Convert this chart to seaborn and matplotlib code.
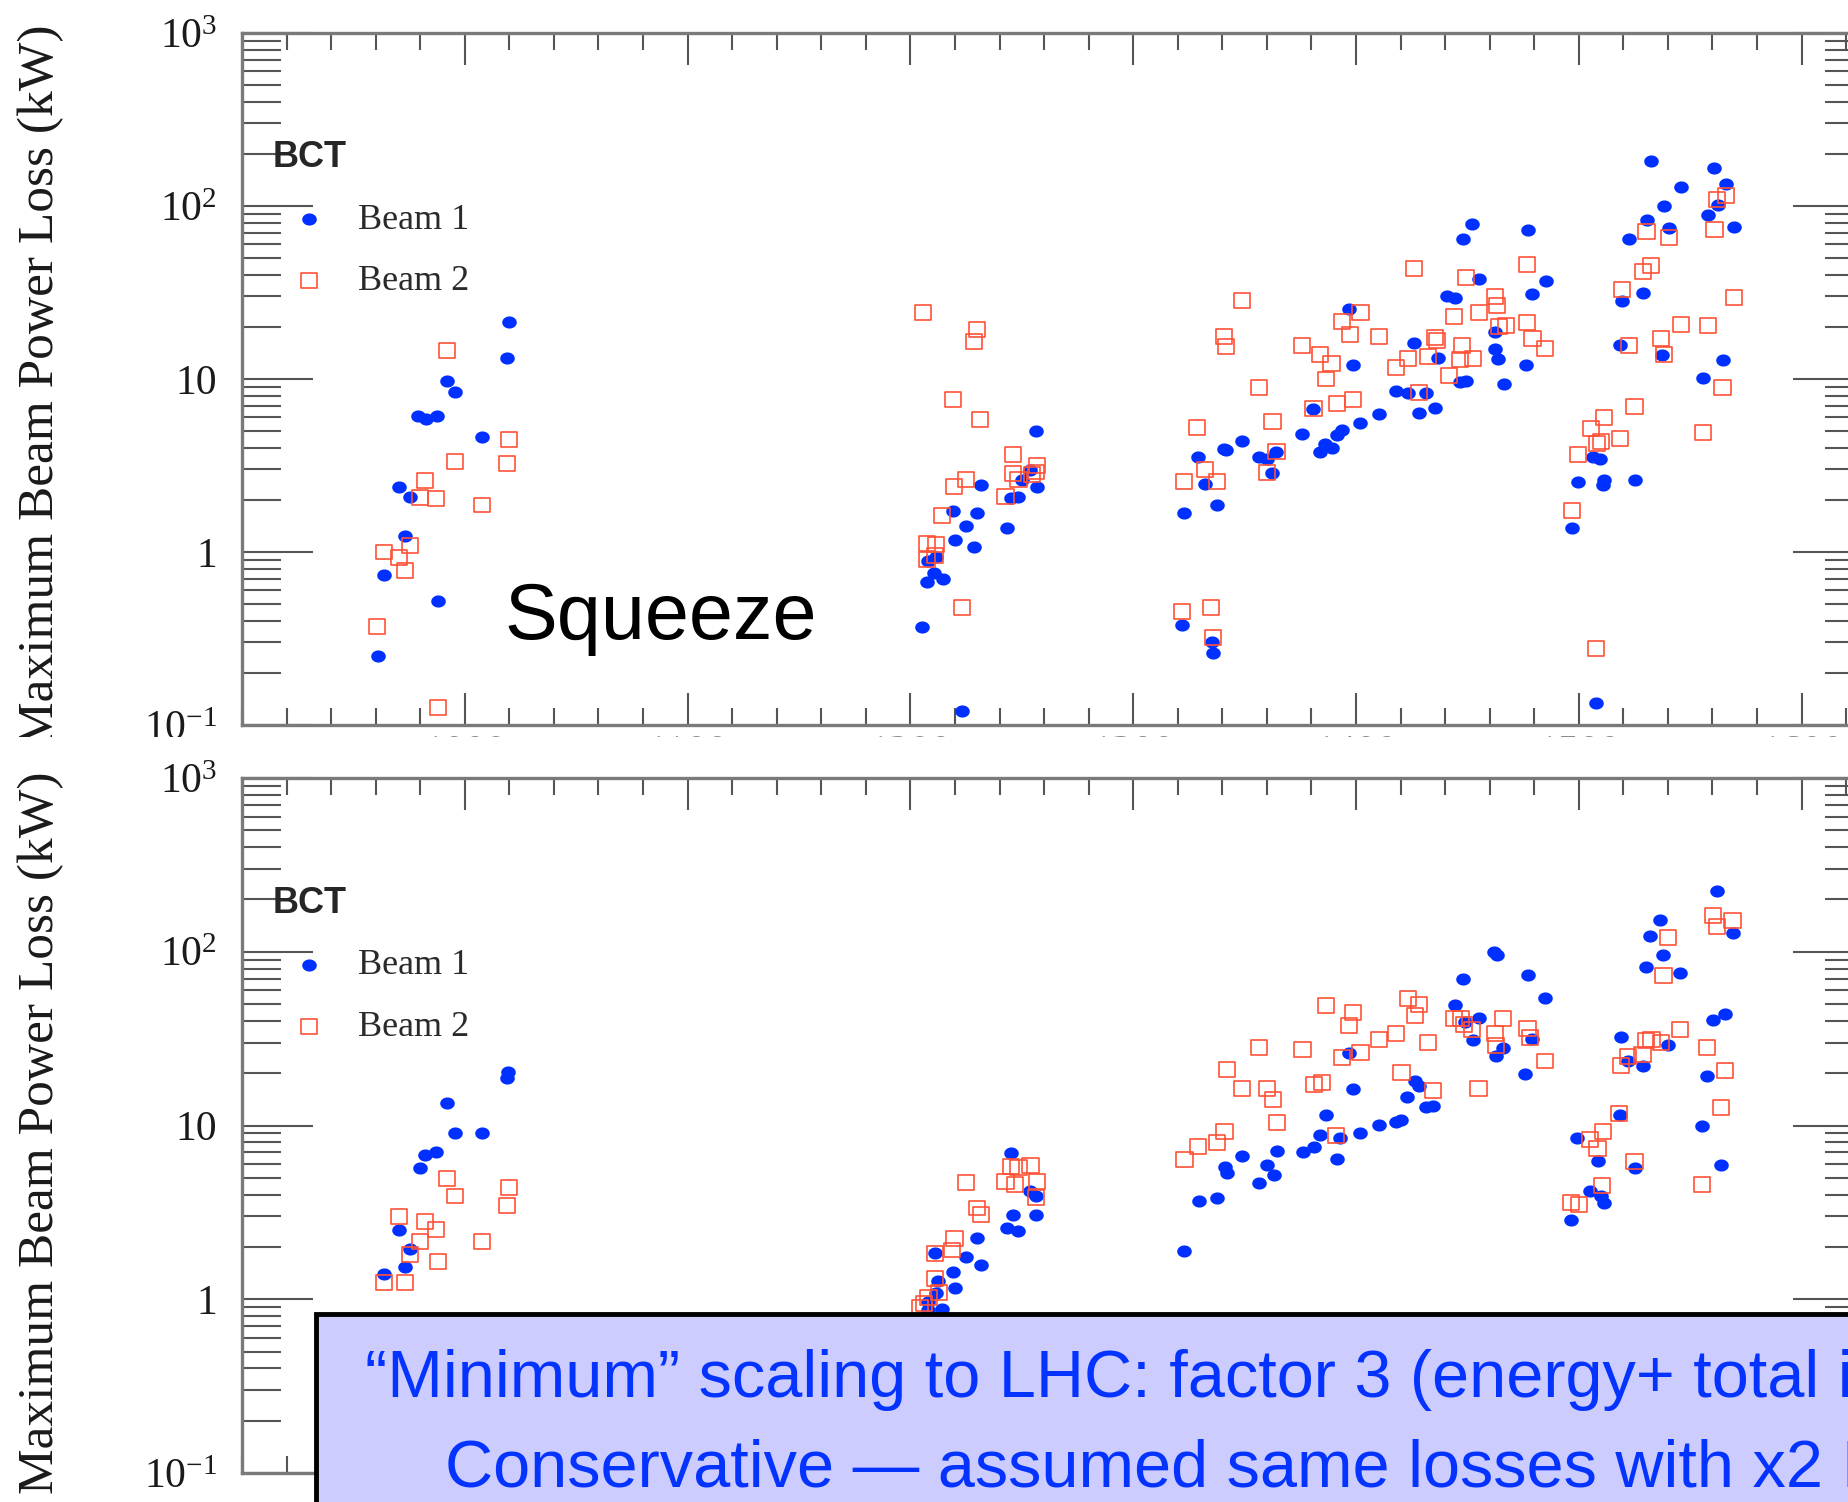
import numpy as np
import pandas as pd
import seaborn as sns
import matplotlib.pyplot as plt
from matplotlib.patches import Rectangle
from matplotlib.path import Path
from matplotlib.ticker import FixedLocator, FixedFormatter, LogLocator, NullFormatter, MultipleLocator

# ---- data (x: fill number, y: kW) ----
top_b1_x = [1019.7, 1019.0, 991.9, 995.7, 979.0, 982.6, 987.6, 1007.7, 970.4, 975.4, 973.0, 963.7, 988.0, 961.2,
            1256.3, 1253.5, 1250.3, 1256.9, 1248.5, 1245.0, 1231.7, 1230.0, 1219.3, 1224.8, 1243.3, 1219.8, 1228.5,
            1208.1, 1211.3, 1210.4, 1214.5, 1207.4, 1205.4, 1223.3,
            1322.8, 1329.2, 1332.4, 1337.4, 1340.8, 1341.8, 1348.8, 1356.3, 1359.9, 1362.5, 1364.3, 1375.9, 1380.9,
            1384.0, 1386.0, 1389.0, 1391.4, 1393.8, 1397.0, 1398.6, 1402.0, 1410.4, 1418.0, 1423.5, 1426.0, 1428.3,
            1431.5, 1437.0, 1435.5, 1441.0, 1444.5, 1446.5, 1449.5, 1448.0, 1452.2, 1455.2, 1462.6, 1462.6, 1463.8,
            1466.4, 1476.2, 1477.2, 1479.2, 1485.3, 1321.8, 1335.4, 1335.8,
            1496.9, 1499.7, 1506.3, 1509.3, 1511.3, 1510.7, 1507.9, 1519.4, 1518.4, 1522.4, 1525.4, 1529.0, 1530.4,
            1532.4, 1537.4, 1538.4, 1540.4, 1545.8, 1555.9, 1557.9, 1560.9, 1562.5, 1566.1, 1569.5, 1564.5]
top_b1_y = [21.4, 13.3, 9.8, 8.4, 6.15, 5.9, 6.15, 4.65, 2.38, 2.08, 1.24, 0.74, 0.52, 0.25,
            5.0, 2.98, 2.62, 2.38, 2.07, 2.04, 2.45, 1.69, 1.73, 1.42, 1.37, 1.18, 1.07,
            0.89, 0.94, 0.76, 0.70, 0.67, 0.37, 0.12,
            1.68, 3.56, 2.47, 1.87, 3.93, 3.88, 4.38, 3.52, 3.45, 2.88, 3.8, 4.83, 6.67,
            3.8, 4.19, 4.0, 4.77, 5.08, 25.5, 12.0, 5.6, 6.3, 8.5, 8.35, 16.2, 6.37,
            8.35, 13.2, 6.8, 30.2, 29.5, 9.55, 9.8, 64.7, 78.5, 37.9, 18.7, 14.9, 13.1,
            9.4, 12.0, 72.3, 30.9, 36.7, 0.38, 0.30, 0.26,
            1.38, 2.54, 3.56, 3.45, 2.59, 2.43, 0.134, 28.4, 15.7, 64.7, 2.59, 31.3, 82.6,
            181.5, 13.8, 100, 75, 129, 10.1, 89.3, 165, 102, 134, 76, 12.8]

top_b2_x = [991.9, 1019.9, 995.7, 1019.0, 982.2, 979.9, 987.1, 1007.7, 975.4, 963.7, 970.4, 973.0, 960.7, 988.0,
            1205.6, 1229.9, 1228.7, 1219.1, 1231.3, 1245.9, 1256.9, 1245.9, 1248.5, 1254.7, 1256.5, 1242.7, 1225.0,
            1219.6, 1214.1, 1207.4, 1211.3, 1210.9, 1207.4, 1223.3,
            1322.8, 1328.8, 1332.4, 1337.8, 1340.8, 1341.8, 1348.8, 1356.3, 1359.9, 1362.5, 1364.3, 1375.9, 1380.9,
            1384.0, 1386.4, 1389.0, 1391.4, 1393.8, 1397.2, 1398.6, 1402.0, 1410.4, 1418.0, 1423.5, 1426.0, 1428.3,
            1432.3, 1435.5, 1436.5, 1441.7, 1444.0, 1446.7, 1447.7, 1452.6, 1449.5, 1455.2, 1462.2, 1463.2, 1464.2,
            1467.2, 1476.6, 1479.2, 1476.8, 1484.9, 1321.8, 1334.8, 1335.8,
            1496.9, 1499.7, 1505.3, 1511.3, 1508.3, 1509.9, 1507.9, 1518.4, 1519.4, 1522.4, 1525.0, 1529.0, 1532.4,
            1530.4, 1536.8, 1538.4, 1540.4, 1545.8, 1555.9, 1557.9, 1560.9, 1561.9, 1565.9, 1569.5, 1564.5]
top_b2_y = [14.6, 4.45, 3.34, 3.23, 2.58, 2.07, 2.05, 1.87, 1.09, 1.0, 0.93, 0.78, 0.37, 0.127,
            24.2, 19.4, 16.4, 7.6, 5.86, 3.64, 3.18, 2.85, 2.62, 2.79, 2.9, 2.1, 2.63,
            2.39, 1.63, 1.12, 1.1, 0.95, 0.91, 0.48,
            2.54, 5.25, 3.0, 2.55, 17.6, 15.5, 28.6, 8.96, 2.88, 5.7, 3.8, 15.7, 6.79,
            13.8, 10.0, 12.3, 7.25, 21.4, 18.1, 7.6, 24.2, 17.5, 11.6, 13.2, 43.5, 8.35,
            13.5, 17.4, 16.7, 10.5, 23.1, 12.9, 15.7, 13.2, 38.6, 24.2, 29.9, 26.6, 20.0,
            20.3, 21.2, 17.1, 46, 15.0, 0.454, 0.48, 0.32,
            1.73, 3.64, 5.19, 5.97, 4.25, 4.33, 0.277, 4.53, 32.9, 15.7, 6.92, 42, 45.4,
            71.3, 17.1, 13.8, 66, 20.7, 4.92, 20.3, 73.6, 109, 115.6, 29.5, 8.96]

bot_b1_x = [1019.4, 1018.9, 991.9, 995.7, 1007.7, 982.2, 987.1, 979.9, 970.4, 975.4, 973.0, 963.7,
            1245.0, 1253.5, 1256.5, 1246.2, 1256.5, 1243.2, 1248.5, 1229.9, 1210.9, 1224.9, 1231.7, 1218.9,
            1212.2, 1211.3, 1207.7, 1219.8, 1214.0, 1208.0,
            1322.6, 1329.4, 1337.6, 1341.0, 1342.0, 1349.0, 1356.4, 1360.0, 1363.0, 1364.4, 1376.0, 1381.0,
            1384.0, 1386.4, 1391.4, 1393.0, 1397.0, 1398.6, 1402.0, 1410.4, 1418.0, 1420.4, 1423.0, 1426.4,
            1428.4, 1431.4, 1434.4, 1444.4, 1448.0, 1449.0, 1452.4, 1455.0, 1462.0, 1463.4, 1463.0, 1466.0,
            1477.0, 1479.0, 1476.0, 1485.0,
            1496.6, 1499.4, 1505.0, 1508.6, 1510.0, 1511.4, 1518.6, 1519.0, 1522.0, 1525.0, 1528.6, 1530.0,
            1532.0, 1536.6, 1538.0, 1540.0, 1545.4, 1555.4, 1557.6, 1560.4, 1562.0, 1565.6, 1564.0, 1569.0]
bot_b1_y = [20.4, 18.7, 13.5, 9.06, 9.06, 6.8, 7.0, 5.7, 2.52, 1.95, 1.54, 1.4,
            6.9, 4.2, 3.94, 3.04, 3.04, 2.56, 2.48, 2.25, 1.85, 1.74, 1.57, 1.43,
            1.28, 1.09, 0.97, 1.16, 0.88, 0.87,
            1.9, 3.69, 3.81, 5.8, 5.33, 6.7, 4.69, 5.9, 5.19, 7.1, 7.0, 7.5,
            8.8, 11.5, 6.38, 8.5, 26.3, 16.2, 9.1, 10.1, 10.5, 10.8, 14.5, 18.1,
            16.8, 12.7, 12.9, 49.4, 70, 39.3, 30.9, 41.8, 99.8, 95.3, 25.1, 28.1,
            73.6, 31.5, 19.7, 54.5,
            2.85, 8.5, 4.2, 6.25, 3.94, 3.57, 11.5, 32.4, 23.5, 5.7, 22.1, 82.2,
            123, 152, 95.3, 29, 75.2, 10, 19.3, 40.5, 223, 44, 5.9, 129]

bot_b2_x = [991.9, 995.7, 1019.9, 1019.0, 970.4, 982.2, 987.1, 979.9, 1007.7, 975.4, 988.0, 963.7, 973.0,
            1245.0, 1248.5, 1253.9, 1242.7, 1246.8, 1257.0, 1256.5, 1225.1, 1229.9, 1231.7, 1219.8, 1218.7,
            1210.9, 1210.9, 1212.7, 1208.1, 1206.0, 1204.2,
            1323.0, 1329.0, 1337.6, 1341.0, 1342.0, 1349.0, 1356.4, 1360.0, 1362.6, 1364.4, 1376.0, 1381.0,
            1384.6, 1386.4, 1391.0, 1393.6, 1397.0, 1398.6, 1402.0, 1410.4, 1418.0, 1420.4, 1423.4, 1428.4,
            1426.4, 1432.2, 1434.4, 1444.0, 1447.0, 1448.4, 1452.0, 1455.0, 1462.4, 1466.0, 1463.0, 1477.0,
            1478.0, 1485.0,
            1496.6, 1500.0, 1505.0, 1508.4, 1511.0, 1510.4, 1518.0, 1519.0, 1522.0, 1525.0, 1528.6, 1530.0,
            1532.6, 1537.0, 1540.0, 1538.0, 1545.4, 1555.4, 1557.6, 1560.4, 1562.0, 1565.6, 1564.0, 1569.0]
bot_b2_y = [4.98, 3.93, 4.4, 3.45, 3.0, 2.81, 2.52, 2.15, 2.15, 1.8, 1.64, 1.25, 1.25,
            5.8, 5.7, 5.9, 4.78, 4.6, 4.78, 3.86, 4.7, 3.35, 3.08, 2.25, 1.92,
            1.83, 1.32, 1.1, 1.02, 0.95, 0.9,
            6.38, 7.59, 8.0, 9.27, 21, 16.4, 28.1, 16.4, 14.1, 10.4, 27.5, 17.3,
            17.7, 49.1, 8.8, 24.7, 37.5, 44.6, 26.3, 31.3, 34.0, 20.3, 53.5, 49.4,
            43.2, 29.9, 15.9, 41.3, 41.3, 38.2, 35.6, 16.4, 34.0, 41.3, 29.0, 36.3,
            31.9, 23.5,
            3.62, 3.53, 8.26, 7.4, 9.2, 4.54, 11.7, 22.1, 25.1, 6.18, 25.5, 30.9,
            31.3, 29.9, 121, 72.8, 35.6, 4.56, 28.1, 162, 140, 20.6, 12.7, 152]

x_major = [1000, 1100, 1200, 1300, 1400, 1500, 1600]
x_labels = ['1000', '1100', '1200', '1300', '1400', '1500', '1600']
y_major = [0.1, 1, 10, 100, 1000]
y_labels = [r'$\mathregular{10^{-1}}$', '1', '10', r'$\mathregular{10^{2}}$', r'$\mathregular{10^{3}}$']

W, H = 1848, 1502
BLUE = '#0030ff'
RED = '#ff5236'
SERIF = 'Liberation Serif'
SANS = 'Liberation Sans'

# slightly wide markers, as in the screenshot
t = np.linspace(0, 2 * np.pi, 41)
ELLIPSE = Path(np.column_stack([1.2 * np.cos(t), np.sin(t)]), closed=True)
RECT = Path([(-1.08, -1), (1.08, -1), (1.08, 1), (-1.08, 1), (-1.08, -1)], closed=True)


def fx(px):
    return px / W


def fy(py):
    return 1 - py / H


def make_frame(b1x, b1y, b2x, b2y):
    d1 = pd.DataFrame({'fill': b1x, 'loss': b1y, 'beam': 'Beam 1'})
    d2 = pd.DataFrame({'fill': b2x, 'loss': b2y, 'beam': 'Beam 2'})
    return pd.concat([d1, d2], ignore_index=True)


def draw_panel(ax, df, show_xlabels):
    b1 = df[df['beam'] == 'Beam 1']
    b2 = df[df['beam'] == 'Beam 2']
    sns.scatterplot(data=b1, x='fill', y='loss', ax=ax, marker=ELLIPSE, s=110,
                    color=BLUE, edgecolor=BLUE, linewidth=0, label='Beam 1', zorder=3)
    sns.scatterplot(data=b2, x='fill', y='loss', ax=ax, marker=RECT, s=135,
                    facecolors='none', edgecolor=RED, linewidth=1.2, label='Beam 2', zorder=4)
    ax.set_yscale('log')
    ax.set_xlim(900, 1628)
    ax.set_ylim(0.1, 1000)

    ax.xaxis.set_major_locator(FixedLocator(x_major))
    ax.xaxis.set_major_formatter(FixedFormatter(x_labels))
    ax.xaxis.set_minor_locator(MultipleLocator(20))
    ax.yaxis.set_major_locator(FixedLocator(y_major))
    ax.yaxis.set_major_formatter(FixedFormatter(y_labels))
    ax.yaxis.set_minor_locator(LogLocator(base=10, subs=np.arange(2, 10), numticks=20))
    ax.yaxis.set_minor_formatter(NullFormatter())

    tc = '#555555'
    ax.tick_params(axis='y', which='major', direction='in', length=51, width=1.5, color=tc,
                   labelsize=30, pad=18, right=True, labelcolor='#1a1a1a')
    ax.tick_params(axis='y', which='minor', direction='in', length=28, width=1.5, color=tc, right=True)
    ax.tick_params(axis='x', which='major', direction='in', length=23, width=1.5, color=tc,
                   top=True, labelsize=30, pad=6.5, labelcolor='#8a8a8a', labelbottom=show_xlabels)
    ax.tick_params(axis='x', which='minor', direction='in', length=12, width=1.5, color=tc, top=True)
    for lab in ax.get_xticklabels() + ax.get_yticklabels():
        lab.set_family(SERIF)
    for sp in ax.spines.values():
        sp.set_color('#7a7a7a')
        sp.set_linewidth(2.4)

    ax.set_xlabel('')
    ax.set_ylabel('Maximum Beam Power Loss (kW)', fontsize=37, family=SERIF,
                  color='#1a1a1a', va='center')
    ax.yaxis.set_label_coords((41 - 242) / 1622, 0.49)

    leg = ax.legend(title='BCT', loc='upper left', bbox_to_anchor=(0.019, 0.845), frameon=False,
                    prop={'family': SERIF, 'size': 26}, alignment='left',
                    title_fontproperties={'family': SANS, 'weight': 'bold', 'size': 26},
                    handlelength=2.0, handletextpad=0.36, labelspacing=0.78,
                    borderpad=0, borderaxespad=0, scatterpoints=1)
    for txt in leg.get_texts():
        txt.set_color('#2a2a2a')


def main():
    sns.set_style('ticks')
    plt.rcParams['font.family'] = [SERIF, 'DejaVu Sans']
    plt.rcParams['mathtext.default'] = 'regular'

    fig = plt.figure(figsize=(W / 100, H / 100), dpi=100)
    fig.patch.set_facecolor('white')

    # axes rectangles in pixels: left 242, right 1864 (past the edge)
    ax_top = fig.add_axes([fx(242), fy(725), (1864 - 242) / W, (725 - 33) / H])
    ax_bot = fig.add_axes([fx(242), fy(1473), (1864 - 242) / W, (1473 - 778) / H])

    draw_panel(ax_top, make_frame(top_b1_x, top_b1_y, top_b2_x, top_b2_y), True)
    draw_panel(ax_bot, make_frame(bot_b1_x, bot_b1_y, bot_b2_x, bot_b2_y), False)

    ax_top.text(fx(504), fy(639), 'Squeeze', transform=fig.transFigure, fontsize=57,
                family=SANS, color='black', va='baseline', ha='left', zorder=10)

    # the two slides are cropped: hide what falls between them
    fig.patches.append(Rectangle((0, fy(757)), 1, (757 - 737) / H, transform=fig.transFigure,
                                 facecolor='white', edgecolor='none', zorder=5))
    fig.patches.append(Rectangle((fx(225), fy(776)), 1, (776 - 737) / H, transform=fig.transFigure,
                                 facecolor='white', edgecolor='none', zorder=5))

    # annotation box over the lower panel
    fig.patches.append(Rectangle((fx(316), fy(1560)), 1, (1560 - 1314) / H, transform=fig.transFigure,
                                 facecolor='#ccccff', edgecolor='black', linewidth=3.5, zorder=6))
    fig.text(fx(365), fy(1397), '\u201cMinimum\u201d scaling to LHC: factor 3 (energy+ total intensity)',
             fontsize=48, family=SANS, color='#0433ff', va='baseline', ha='left', zorder=7)
    fig.text(fx(445), fy(1487), 'Conservative \u2014 assumed same losses with x2 Intensity',
             fontsize=48, family=SANS, color='#0433ff', va='baseline', ha='left', zorder=7)

    fig.savefig('out.png', dpi=100)


if __name__ == '__main__':
    main()
